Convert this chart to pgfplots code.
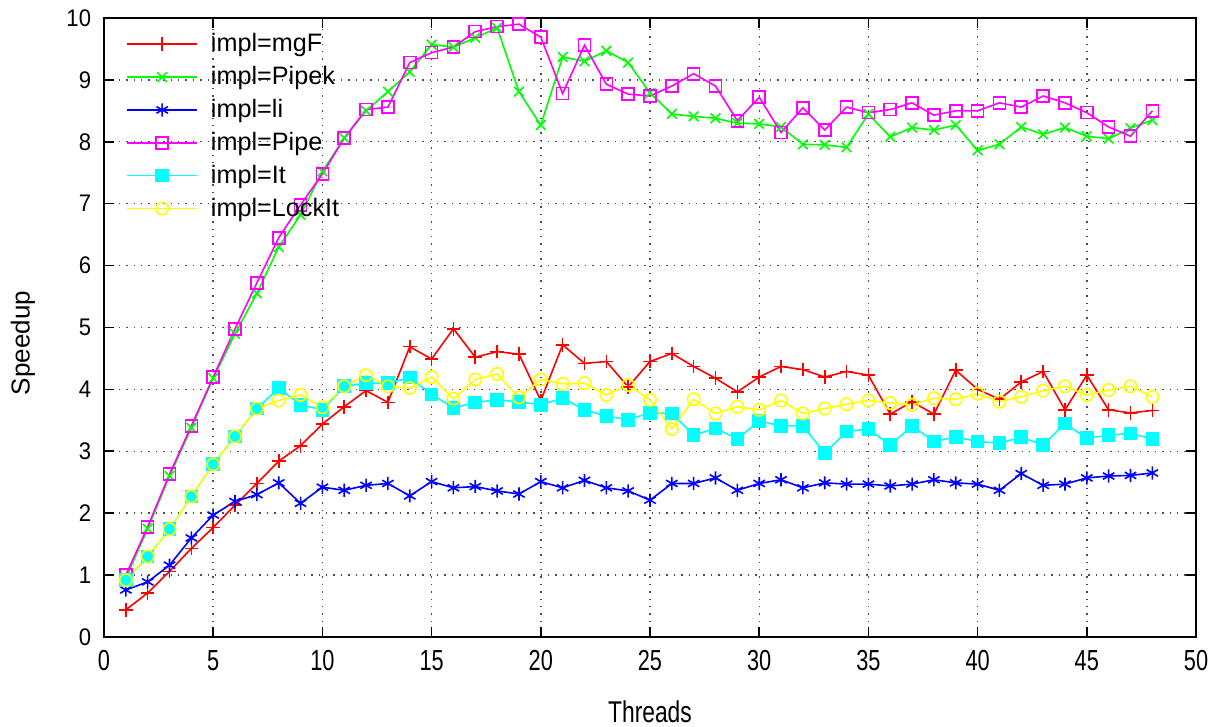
\documentclass[border=0pt]{standalone}
\usepackage{fontspec}
\setmainfont{Liberation Sans}
\usepackage{pgfplots}
\pgfplotsset{compat=1.18}
\usepackage{pgfplotstable}

% Speedup per thread count for each implementation
\pgfplotstableread{
t   mgF   Pipek  li    Pipe  It    LockIt
1   0.44  0.95   0.76  1.00  0.92  0.92
2   0.71  1.75   0.89  1.78  1.30  1.30
3   1.06  2.60   1.16  2.63  1.74  1.74
4   1.43  3.38   1.60  3.41  2.27  2.27
5   1.77  4.18   1.97  4.20  2.79  2.79
6   2.13  4.90   2.19  4.98  3.24  3.24
7   2.48  5.55   2.30  5.72  3.69  3.69
8   2.84  6.30   2.49  6.45  4.02  3.82
9   3.09  6.82   2.16  6.98  3.75  3.91
10  3.44  7.52   2.42  7.48  3.67  3.71
11  3.72  8.06   2.37  8.06  4.05  4.05
12  3.98  8.50   2.45  8.52  4.10  4.23
13  3.79  8.81   2.48  8.56  4.10  4.05
14  4.69  9.13   2.28  9.28  4.19  4.02
15  4.49  9.57   2.51  9.44  3.92  4.20
16  4.98  9.53   2.41  9.53  3.70  3.85
17  4.52  9.68   2.43  9.78  3.79  4.16
18  4.61  9.84   2.36  9.86  3.83  4.25
19  4.57  8.81   2.31  9.90  3.80  3.87
20  3.82  8.27   2.51  9.69  3.75  4.16
21  4.72  9.37   2.41  8.78  3.86  4.09
22  4.42  9.30   2.53  9.56  3.67  4.10
23  4.45  9.47   2.41  8.93  3.57  3.91
24  4.04  9.28   2.36  8.77  3.51  4.07
25  4.45  8.79   2.21  8.74  3.62  3.83
26  4.58  8.45   2.48  8.90  3.61  3.36
27  4.37  8.41   2.48  9.10  3.26  3.84
28  4.18  8.38   2.57  8.90  3.37  3.61
29  3.96  8.30   2.37  8.34  3.20  3.72
30  4.20  8.29   2.48  8.72  3.49  3.67
31  4.37  8.24   2.54  8.15  3.41  3.82
32  4.32  7.96   2.41  8.55  3.41  3.61
33  4.20  7.95   2.49  8.19  2.97  3.69
34  4.29  7.91   2.47  8.56  3.32  3.76
35  4.23  8.45   2.47  8.47  3.36  3.82
36  3.60  8.08   2.44  8.52  3.10  3.78
37  3.80  8.23   2.47  8.63  3.41  3.75
38  3.60  8.19   2.54  8.43  3.16  3.86
39  4.31  8.27   2.49  8.50  3.23  3.84
40  4.00  7.86   2.47  8.50  3.16  3.93
41  3.84  7.96   2.37  8.63  3.13  3.80
42  4.12  8.24   2.64  8.56  3.23  3.88
43  4.29  8.12   2.45  8.74  3.10  3.98
44  3.67  8.23   2.47  8.63  3.45  4.05
45  4.23  8.09   2.57  8.47  3.21  3.91
46  3.67  8.05   2.60  8.24  3.26  3.99
47  3.62  8.22   2.61  8.09  3.29  4.05
48  3.66  8.35   2.65  8.50  3.20  3.88
}\speedup

\definecolor{gpred}{RGB}{255,0,0}
\definecolor{gpgreen}{RGB}{0,255,0}
\definecolor{gpblue}{RGB}{0,0,255}
\definecolor{gpmagenta}{RGB}{255,0,255}
\definecolor{gpcyan}{RGB}{0,255,255}
\definecolor{gpyellow}{RGB}{255,255,0}

\begin{document}
\begin{tikzpicture}
\begin{axis}[
  scale only axis,
  width=546pt, height=309.5pt,
  xmin=0, xmax=50, ymin=0, ymax=10,
  xtick={0,5,...,50},
  ytick={0,1,...,10},
  axis line style={black, line width=0.9pt},
  tick style={black, line width=0.8pt},
  tick align=inside,
  major tick length=5pt,
  grid=major,
  major grid style={black!70, line width=0.7pt, dash pattern=on 0.7pt off 3pt},
  /pgf/number format/assume math mode=true,
  xticklabel style={font=\fontsize{14.5}{15}\selectfont, xscale=0.75, yshift=-3pt},
  yticklabel style={font=\fontsize{12}{13}\selectfont, xscale=0.92, xshift=-3.5pt},
  xlabel={Threads},
  xlabel style={font=\fontsize{15}{16}\selectfont, xscale=0.76,
    at={(axis description cs:0.5,0)}, anchor=base, yshift=-43pt},
  ylabel={Speedup},
  % the label is rotated, so its shifts act in the turned frame
  ylabel style={font=\fontsize{13}{14}\selectfont,
    at={(axis description cs:0,0.5)}, anchor=center, xshift=-7.75pt, yshift=40.5pt},
  legend style={at={(axis description cs:0,1)}, anchor=north west,
    xshift=8pt, yshift=-3.6pt, draw=none, fill=none,
    font=\fontsize{12.6}{13}\selectfont, row sep=1.8pt},
  legend cell align=left,
  legend image code/.code={%
    \draw[mark repeat=2, mark phase=2] plot coordinates {(0pt,0pt) (17.5pt,0pt) (35pt,0pt)};
    \path (39.5pt,0pt);},
  every axis plot/.append style={line width=0.8pt},
]
\addplot[gpred, mark=+, mark size=3.4pt] table[x=t, y=mgF] {\speedup};
\addlegendentry{impl=mgF}
\addplot[gpgreen, mark=x, mark size=3.4pt] table[x=t, y=Pipek] {\speedup};
\addlegendentry{impl=Pipek}
\addplot[gpblue, mark=asterisk, mark size=3.3pt] table[x=t, y=li] {\speedup};
\addlegendentry{impl=li}
\addplot[gpmagenta, mark=square, mark size=3pt] table[x=t, y=Pipe] {\speedup};
\addlegendentry{impl=Pipe}
\addplot[gpcyan, mark=square*, mark size=3pt, mark options={fill=gpcyan}] table[x=t, y=It] {\speedup};
\addlegendentry{impl=It}
\addplot[gpyellow, mark=o, mark size=3.1pt] table[x=t, y=LockIt] {\speedup};
\addlegendentry{impl=LockIt}
\end{axis}
\pgfresetboundingbox
\path[use as bounding box] ([shift={(-52pt,-45pt)}]current axis.south west)
  rectangle ([shift={(12.5pt,9pt)}]current axis.north east);
\end{tikzpicture}
\end{document}
